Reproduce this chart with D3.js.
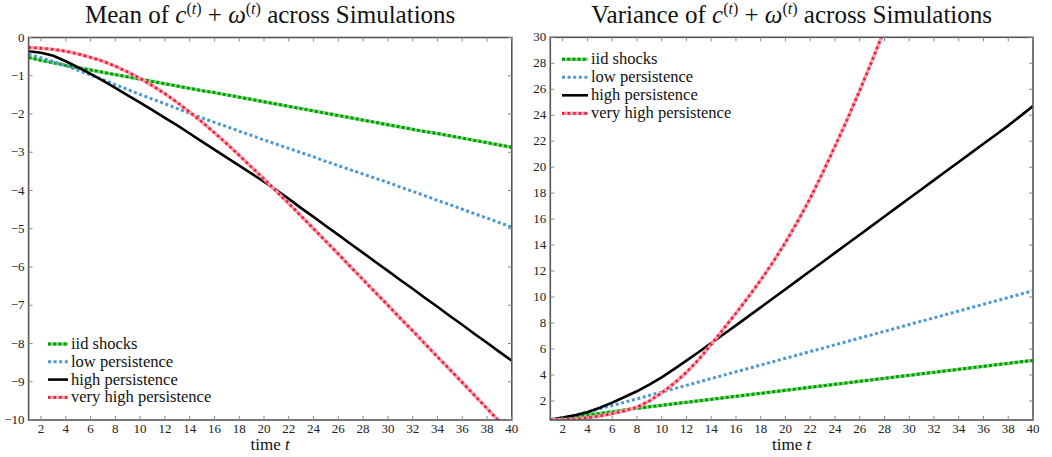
<!DOCTYPE html>
<html>
<head>
<meta charset="UTF-8">
<title>Mean and variance across simulations</title>
<script src="https://cdn.jsdelivr.net/npm/d3@7"></script>
<style>
* { margin: 0; padding: 0; }
body { background: #fff; }
svg { display: block; }
svg text { font-family: "Liberation Serif", "Times New Roman", serif; }
</style>
</head>
<body>
<svg id="chart" width="1052" height="457"></svg>
<script>
// time axis
const t = d3.range(1, 41);

// mean of c + omega
const meanIid = [-0.52, -0.60, -0.66, -0.73, -0.79, -0.85, -0.91, -0.97, -1.03, -1.09,
  -1.15, -1.21, -1.27, -1.33, -1.39, -1.44, -1.50, -1.56, -1.62, -1.68,
  -1.74, -1.80, -1.86, -1.92, -1.98, -2.04, -2.10, -2.16, -2.22, -2.28,
  -2.34, -2.40, -2.46, -2.51, -2.57, -2.63, -2.69, -2.75, -2.81, -2.87];
const meanLow = [-0.44, -0.53, -0.63, -0.74, -0.86, -0.98, -1.10, -1.23, -1.36, -1.49,
  -1.61, -1.73, -1.86, -1.98, -2.10, -2.22, -2.33, -2.45, -2.56, -2.68,
  -2.79, -2.90, -3.01, -3.12, -3.24, -3.35, -3.46, -3.57, -3.68, -3.79,
  -3.91, -4.02, -4.14, -4.26, -4.37, -4.49, -4.61, -4.72, -4.84, -4.96];
const meanHigh = [-0.36, -0.40, -0.48, -0.62, -0.78, -0.95, -1.13, -1.32, -1.51, -1.70,
  -1.90, -2.10, -2.30, -2.51, -2.72, -2.93, -3.14, -3.35, -3.56, -3.77,
  -3.99, -4.22, -4.46, -4.69, -4.93, -5.16, -5.40, -5.63, -5.87, -6.10,
  -6.34, -6.57, -6.81, -7.04, -7.28, -7.51, -7.75, -7.98, -8.22, -8.45];
const meanVery = [-0.26, -0.28, -0.31, -0.36, -0.43, -0.52, -0.62, -0.75, -0.90, -1.07,
  -1.26, -1.47, -1.70, -1.95, -2.21, -2.49, -2.78, -3.08, -3.39, -3.70,
  -4.02, -4.34, -4.67, -5.00, -5.33, -5.66, -6.00, -6.33, -6.67, -7.00,
  -7.34, -7.67, -8.01, -8.35, -8.68, -9.02, -9.36, -9.70, -10.04, -10.38];

// variance of c + omega
const varIid = [0.55, 0.68, 0.80, 0.92, 1.04, 1.16, 1.30, 1.43, 1.55, 1.66,
  1.78, 1.89, 2.01, 2.12, 2.24, 2.35, 2.47, 2.58, 2.70, 2.82,
  2.93, 3.05, 3.16, 3.28, 3.39, 3.51, 3.62, 3.74, 3.86, 3.97,
  4.09, 4.20, 4.32, 4.43, 4.55, 4.66, 4.78, 4.89, 5.01, 5.11];
const varLow = [0.55, 0.70, 0.90, 1.15, 1.40, 1.65, 1.90, 2.16, 2.42, 2.68,
  2.94, 3.20, 3.46, 3.72, 3.98, 4.24, 4.50, 4.76, 5.02, 5.28,
  5.54, 5.80, 6.06, 6.32, 6.58, 6.84, 7.10, 7.36, 7.62, 7.88,
  8.14, 8.40, 8.66, 8.92, 9.18, 9.44, 9.70, 9.96, 10.22, 10.48];
const varHigh = [0.55, 0.72, 0.90, 1.13, 1.48, 1.87, 2.30, 2.74, 3.26, 3.82,
  4.45, 5.10, 5.77, 6.45, 7.13, 7.82, 8.51, 9.20, 9.90, 10.60,
  11.30, 12.00, 12.70, 13.40, 14.10, 14.80, 15.50, 16.20, 16.90, 17.60,
  18.30, 19.00, 19.70, 20.40, 21.10, 21.80, 22.50, 23.20, 23.95, 24.70];
const varVery = [0.55, 0.57, 0.60, 0.70, 0.84, 1.02, 1.24, 1.52, 2.00, 2.62,
  3.35, 4.20, 5.20, 6.35, 7.55, 8.75, 10.00, 11.30, 12.70, 14.20,
  15.85, 17.60, 19.55, 21.60, 23.70, 25.90, 28.20, 30.60, 33.10, 35.70,
  38.40, 41.20, 44.10, 47.10, 50.20, 53.40, 56.70, 60.10, 63.60, 67.20];

const xTicks = d3.range(2, 41, 2);
const meanTicks = d3.range(0, -11, -1);
const varTicks = d3.range(2, 31, 2);
const seriesNames = ["iid shocks", "low persistence", "high persistence", "very high persistence"];

const styles = [
  { color: "#00a000", halo: "#88d888", dash: "3,2.2", width: 3 },
  { color: "#4a98d4", halo: null, dash: "3,2.6", width: 3 },
  { color: "#000000", halo: null, dash: null, width: 2.6 },
  { color: "#ec1c3a", halo: "#f6a0ac", dash: "2.4,3.2", width: 2.8 }
];

const serif = "Liberation Serif";
const svg = d3.select("#chart");

function drawLine(g, data, x, y, s) {
  const line = d3.line().x((d, i) => x(t[i])).y(d => y(d));
  if (s.halo) {
    g.append("path").datum(data).attr("d", line)
      .attr("fill", "none").attr("stroke", s.halo).attr("stroke-width", 3.4);
  }
  const p = g.append("path").datum(data).attr("d", line)
    .attr("fill", "none").attr("stroke", s.color).attr("stroke-width", s.width);
  if (s.dash) p.attr("stroke-dasharray", s.dash);
}

function legendLine(g, x1, x2, yy, s) {
  if (s.halo) {
    g.append("line").attr("x1", x1).attr("x2", x2).attr("y1", yy).attr("y2", yy)
      .attr("stroke", s.halo).attr("stroke-width", 3.4);
  }
  const l = g.append("line").attr("x1", x1).attr("x2", x2).attr("y1", yy).attr("y2", yy)
    .attr("stroke", s.color).attr("stroke-width", s.width);
  if (s.dash) l.attr("stroke-dasharray", s.dash);
}

function panel(opts) {
  const { id, left, right, top, bottom, yDomain, yTicks, series, titleWord, legend } = opts;
  const x = d3.scaleLinear().domain([1, 40]).range([left, right]);
  const y = d3.scaleLinear().domain(yDomain).range([bottom, top]);
  const g = svg.append("g").attr("font-family", serif);

  g.append("clipPath").attr("id", id).append("rect")
    .attr("x", left).attr("y", top).attr("width", right - left).attr("height", bottom - top);

  const lines = g.append("g").attr("clip-path", `url(#${id})`);
  series.forEach((d, i) => drawLine(lines, d, x, y, styles[i]));

  // frame
  g.append("rect").attr("x", left).attr("y", top)
    .attr("width", right - left).attr("height", bottom - top)
    .attr("fill", "none").attr("stroke", "#555").attr("stroke-width", 1.6);

  // inward ticks on all sides
  const tk = "#888";
  xTicks.forEach(v => {
    g.append("line").attr("x1", x(v)).attr("x2", x(v)).attr("y1", bottom).attr("y2", bottom - 4)
      .attr("stroke", tk).attr("stroke-width", 1);
    g.append("line").attr("x1", x(v)).attr("x2", x(v)).attr("y1", top).attr("y2", top + 4)
      .attr("stroke", tk).attr("stroke-width", 1);
  });
  g.append("g").selectAll("text").data(xTicks).join("text")
    .attr("x", d => x(d)).attr("y", bottom + 13)
    .attr("text-anchor", "middle").attr("font-size", 13).attr("fill", "#222")
    .attr("font-family", serif)
    .text(d => d);
  yTicks.forEach(v => {
    g.append("line").attr("x1", left).attr("x2", left + 4).attr("y1", y(v)).attr("y2", y(v))
      .attr("stroke", tk).attr("stroke-width", 1);
    g.append("line").attr("x1", right).attr("x2", right - 4).attr("y1", y(v)).attr("y2", y(v))
      .attr("stroke", tk).attr("stroke-width", 1);
  });
  g.append("g").selectAll("text").data(yTicks).join("text")
    .attr("x", left - 4).attr("y", d => y(d) + 4)
    .attr("text-anchor", "end").attr("font-size", 13).attr("fill", "#222")
    .attr("font-family", serif)
    .text(d => d < 0 ? "\u2212" + Math.abs(d) : d);

  // title
  const cx = (left + right) / 2;
  const title = g.append("text").attr("x", cx).attr("y", 23)
    .attr("text-anchor", "middle").attr("font-size", 25).attr("fill", "#111")
    .attr("font-family", serif);
  title.append("tspan").text(titleWord + " of ");
  title.append("tspan").attr("font-style", "italic").text("c");
  title.append("tspan").attr("dy", -9).attr("font-size", 16).text("(");
  title.append("tspan").attr("font-size", 16).attr("font-style", "italic").text("t");
  title.append("tspan").attr("font-size", 16).text(")");
  title.append("tspan").attr("dy", 9).text(" + ");
  title.append("tspan").attr("font-style", "italic").text("\u03c9");
  title.append("tspan").attr("dy", -9).attr("font-size", 16).text("(");
  title.append("tspan").attr("font-size", 16).attr("font-style", "italic").text("t");
  title.append("tspan").attr("font-size", 16).text(")");
  title.append("tspan").attr("dy", 9).text(" across Simulations");

  // x label
  const xl = g.append("text").attr("x", cx).attr("y", 450)
    .attr("text-anchor", "middle").attr("font-size", 17).attr("fill", "#111")
    .attr("font-family", serif);
  xl.append("tspan").text("time ");
  xl.append("tspan").attr("font-style", "italic").text("t");

  // legend
  const lg = g.append("g");
  seriesNames.forEach((name, i) => {
    const yy = legend.y + i * legend.dy;
    legendLine(lg, legend.x, legend.x + legend.len, yy, styles[i]);
    lg.append("text").attr("x", legend.x + legend.len + 3).attr("y", yy + 5)
      .attr("font-size", 16.5).attr("fill", "#111").attr("font-family", serif).text(name);
  });
}

panel({
  id: "clipMean", left: 28.6, right: 511.8, top: 37.5, bottom: 420,
  yDomain: [-10, 0], yTicks: meanTicks,
  series: [meanIid, meanLow, meanHigh, meanVery],
  titleWord: "Mean",
  legend: { x: 48, len: 20, y: 344, dy: 17.8 }
});

panel({
  id: "clipVar", left: 550.3, right: 1033, top: 37.3, bottom: 420,
  yDomain: [0.53, 30], yTicks: varTicks,
  series: [varIid, varLow, varHigh, varVery],
  titleWord: "Variance",
  legend: { x: 562, len: 26, y: 59.3, dy: 18 }
});
</script>
</body>
</html>
